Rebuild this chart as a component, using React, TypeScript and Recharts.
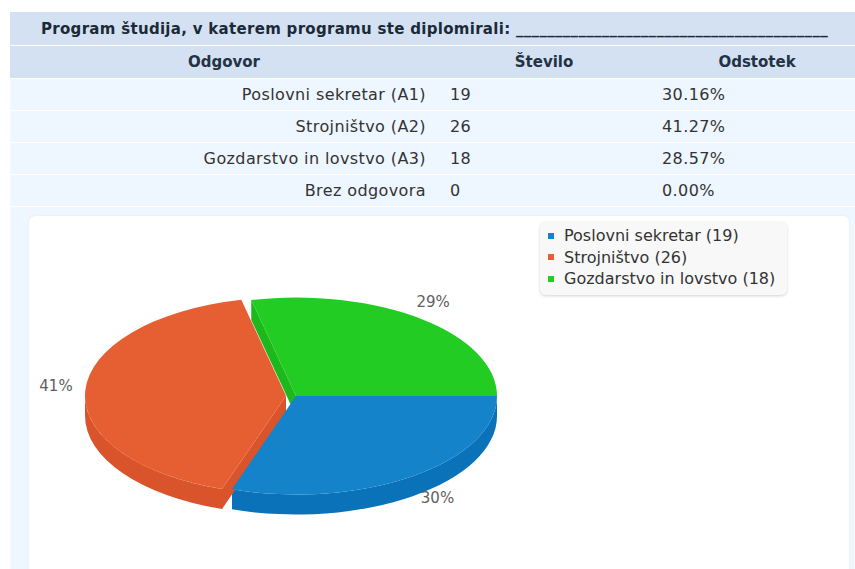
import React from "react";
import { PieChart, Pie, Legend } from "recharts";

// survey answers shown in the pie
const categories = ["Poslovni sekretar", "Strojništvo", "Gozdarstvo in lovstvo"];
const counts = [19, 26, 18];

// table rows
const tableAnswers = [
  "Poslovni sekretar (A1)",
  "Strojništvo (A2)",
  "Gozdarstvo in lovstvo (A3)",
  "Brez odgovora",
];
const tableCounts = [19, 26, 18, 0];
const tablePercents = ["30.16%", "41.27%", "28.57%", "0.00%"];

const topColors = ["#1483c9", "#e65f33", "#22cc22"];
const sideColors = ["#0a72b9", "#d9532b", "#1cb81c"];

const TILT = 0.49; // ry / rx
const DEPTH = 20;
const EXPLODE = 10;
const EXPLODED_INDEX = 1;

const chartData = categories.map((name, i) => ({ name, value: counts[i] }));

const rad = (d: number) => (d * Math.PI) / 180;

function geometry(props: any) {
  const rx = props.outerRadius;
  const ry = rx * TILT;
  // recharts angles run counter-clockwise; flip to screen angles (clockwise)
  const a = -props.startAngle;
  const b = -props.endAngle;
  let cx = props.cx;
  let cy = props.cy;
  if (props.index === EXPLODED_INDEX) {
    const m = rad((a + b) / 2);
    cx += EXPLODE * Math.cos(m);
    cy += EXPLODE * TILT * Math.sin(m);
  }
  const pt = (phi: number, dy = 0) =>
    `${cx + rx * Math.cos(rad(phi))},${cy + ry * Math.sin(rad(phi)) + dy}`;
  return { rx, ry, a, b, cx, cy, pt };
}

const renderWalls = (props: any) => {
  const { rx, ry, a, b, cx, cy, pt } = geometry(props);
  const color = sideColors[props.index];
  const n = categories.length;
  const prev = (props.index + n - 1) % n;
  const next = (props.index + 1) % n;
  // a cut face only shows where the slice borders the pulled-out one, and faces the viewer
  const faces: string[] = [];
  if ((props.index === EXPLODED_INDEX || prev === EXPLODED_INDEX) && Math.cos(rad(a)) < 0) {
    faces.push(`M${cx},${cy} L${pt(a)} L${pt(a, DEPTH)} L${cx},${cy + DEPTH} Z`);
  }
  if ((props.index === EXPLODED_INDEX || next === EXPLODED_INDEX) && Math.cos(rad(b)) > 0) {
    faces.push(`M${cx},${cy} L${pt(b)} L${pt(b, DEPTH)} L${cx},${cy + DEPTH} Z`);
  }
  const walls: string[] = [];
  [
    [0, 180],
    [360, 540],
  ].forEach(([lo, hi]) => {
    const s = Math.max(a, lo);
    const e = Math.min(b, hi);
    if (e > s) {
      walls.push(
        `M${pt(s)} A${rx},${ry} 0 0 1 ${pt(e)} L${pt(e, DEPTH)} A${rx},${ry} 0 0 0 ${pt(s, DEPTH)} Z`
      );
    }
  });
  return (
    <g key={`w-${props.index}`}>
      {faces.map((d, i) => (
        <path key={`f${i}`} d={d} fill={color} />
      ))}
      {walls.map((d, i) => (
        <path key={`o${i}`} d={d} fill={color} />
      ))}
    </g>
  );
};

const renderTops = (props: any) => {
  const { rx, ry, a, b, cx, cy, pt } = geometry(props);
  const large = b - a > 180 ? 1 : 0;
  const d = `M${cx},${cy} L${pt(a)} A${rx},${ry} 0 ${large} 1 ${pt(b)} Z`;
  const m = rad((a + b) / 2);
  // labels sit a bit further out on the near side of the tilted pie
  const lx = cx + (rx + 30 + 14 * Math.sin(m)) * Math.cos(m);
  const ly = cy + (ry + 22) * Math.sin(m) + Math.max(0, Math.sin(m)) * DEPTH * 0.25 - 4 * Math.abs(Math.cos(m)) * (Math.cos(m) < 0 ? 1 : 0);
  return (
    <g key={`t-${props.index}`}>
      <path d={d} fill={topColors[props.index]} />
      <text
        x={lx}
        y={ly}
        textAnchor="middle"
        dominantBaseline="central"
        fontSize={15}
        fill="#606060"
        fontFamily="DejaVu Sans"
      >
        {`${Math.round(props.percent * 100)}%`}
      </text>
    </g>
  );
};

const LegendBox = () => (
  <div
    style={{
      background: "#f8f8f8",
      borderRadius: 6,
      boxShadow: "0 1px 3px rgba(0,0,0,0.18)",
      padding: "3px 12px 5px 8px",
      fontFamily: "DejaVu Sans",
      fontSize: 16,
      color: "#333",
    }}
  >
    {categories.map((name, i) => (
      <div key={name} style={{ display: "flex", alignItems: "center", height: 21.5 }}>
        <span
          style={{
            display: "inline-block",
            width: 6,
            height: 6,
            background: topColors[i],
            marginRight: 10,
          }}
        />
        {`${name} (${counts[i]})`}
      </div>
    ))}
  </div>
);

const rowStyle = (top: number, height: number, bg: string): React.CSSProperties => ({
  position: "absolute",
  left: 10,
  top,
  width: 854,
  height,
  background: bg,
  display: "flex",
  alignItems: "center",
});

const HEADER_BG = "#d3e1f2";
const ROW_BG = "#eef6ff";

export default function App() {
  return (
    <div
      style={{
        position: "absolute",
        left: 0,
        top: 0,
        width: 855,
        height: 569,
        overflow: "hidden",
        background: "#fff",
        fontFamily: "DejaVu Sans",
      }}
    >
      <div
        style={{
          ...rowStyle(12, 33, HEADER_BG),
          fontWeight: "bold",
          fontSize: 15,
          color: "#1c2a38",
        }}
      >
        <span style={{ paddingLeft: 31, letterSpacing: 0.3 }}>
          Program študija, v katerem programu ste diplomirali: ________________________________________
        </span>
      </div>
      <div
        style={{
          ...rowStyle(46, 32, HEADER_BG),
          fontWeight: "bold",
          fontSize: 15,
          color: "#233344",
        }}
      >
        <span style={{ width: 428, textAlign: "center" }}>Odgovor</span>
        <span style={{ width: 212, textAlign: "center" }}>Število</span>
        <span style={{ width: 214, textAlign: "center" }}>Odstotek</span>
      </div>
      {tableAnswers.map((answer, i) => (
        <div
          key={answer}
          style={{
            ...rowStyle(79 + i * 32, 31, ROW_BG),
            fontSize: 16,
            letterSpacing: 0.4,
            color: "#333",
          }}
        >
          <span style={{ width: 416, paddingRight: 12, textAlign: "right" }}>{answer}</span>
          <span style={{ width: 200, paddingLeft: 12 }}>{tableCounts[i]}</span>
          <span style={{ width: 202, paddingLeft: 12 }}>{tablePercents[i]}</span>
        </div>
      ))}
      <div style={{ ...rowStyle(207, 362, ROW_BG) }} />
      <div
        style={{
          position: "absolute",
          left: 29,
          top: 216,
          width: 820,
          height: 370,
          background: "#fff",
          borderRadius: 6,
          boxShadow: "0 0 2px rgba(0,0,0,0.08)",
        }}
      >
        <PieChart width={820} height={353} margin={{ top: 0, right: 0, bottom: 0, left: 0 }}>
          <Pie
            data={chartData}
            dataKey="value"
            nameKey="name"
            cx={267}
            cy={180}
            outerRadius={201}
            startAngle={0}
            endAngle={-360}
            fill="none"
            stroke="none"
            labelLine={false}
            label={renderWalls}
            isAnimationActive={false}
            legendType="none"
          />
          <Pie
            data={chartData}
            dataKey="value"
            nameKey="name"
            cx={267}
            cy={180}
            outerRadius={201}
            startAngle={0}
            endAngle={-360}
            fill="none"
            stroke="none"
            labelLine={false}
            label={renderTops}
            isAnimationActive={false}
            legendType="none"
          />
          <Legend
            content={() => <LegendBox />}
            wrapperStyle={{ position: "absolute", left: 511, top: 6, width: "auto" }}
          />
        </PieChart>
      </div>
    </div>
  );
}
